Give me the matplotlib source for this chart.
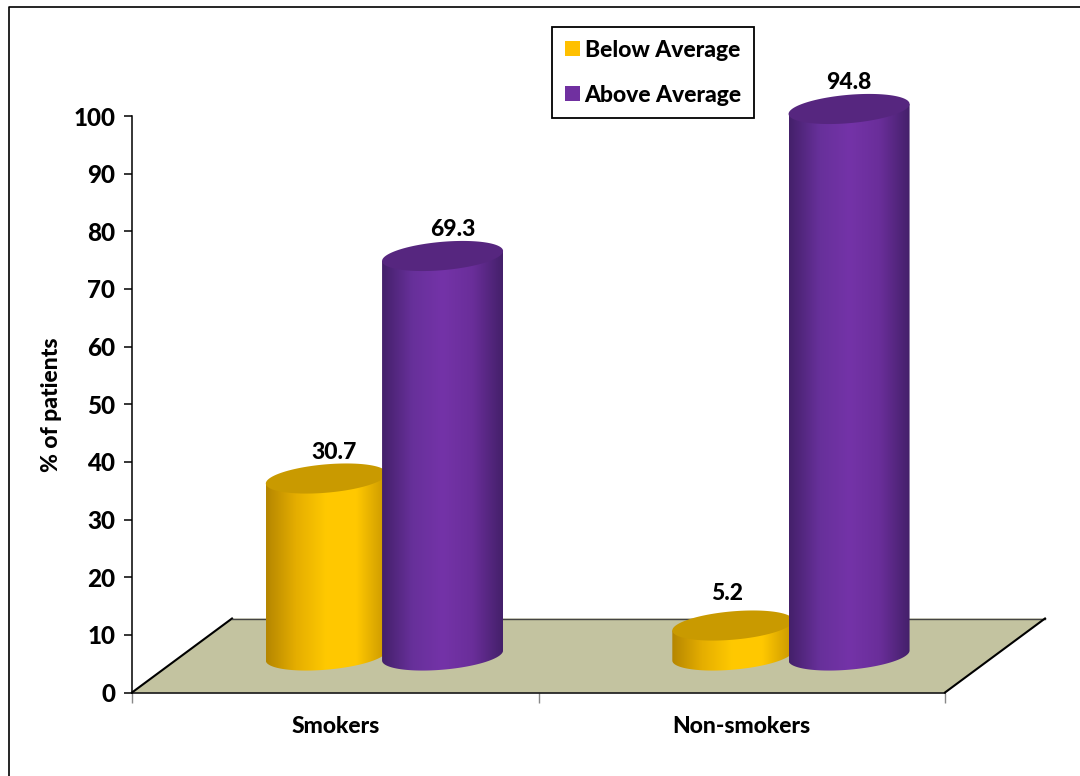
import numpy as np
import matplotlib
matplotlib.use('Agg')
from matplotlib import pyplot as plt
from matplotlib.colors import LinearSegmentedColormap
from matplotlib.lines import Line2D
from matplotlib.patches import Patch, PathPatch, Polygon
from matplotlib.path import Path

plt.rcParams['font.family'] = ['Lato', 'DejaVu Sans']
plt.rcParams['font.weight'] = 'black'

groups = ['Smokers', 'Non-smokers']
below_avg = [30.7, 5.2]
above_avg = [69.3, 94.8]
yticks = [0, 10, 20, 30, 40, 50, 60, 70, 80, 90, 100]

W, H = 1080, 776
fig = plt.figure(figsize=(W / 100, H / 100), dpi=100, facecolor='white')
ax = fig.add_axes([132 / W, 1 - 692.5 / H, (945 - 132) / W, (692.5 - 116) / H])
ax.set_xlim(0, 2)
ax.set_ylim(0, 100)
xpx = (945 - 132) / 2    # pixels per x unit
ypx = (692.5 - 116) / 100  # pixels per y unit

# floor of the 3d plot
floor = Polygon([(0, 0), (100 / xpx, 74 / ypx), (2 + 100 / xpx, 74 / ypx), (2, 0)], closed=True,
                facecolor='#C3C3A0', edgecolor='none', clip_on=False, zorder=1)
ax.add_patch(floor)
ax.plot([0, 100 / xpx], [0, 74 / ypx], color='black', lw=1.5, clip_on=False, zorder=2)
ax.plot([100 / xpx, 2 + 100 / xpx], [74 / ypx, 74 / ypx], color='#444444', lw=1, clip_on=False, zorder=2)
ax.plot([2, 2 + 100 / xpx], [0, 74 / ypx], color='black', lw=1.5, clip_on=False, zorder=2)

yellow_side = LinearSegmentedColormap.from_list('ys', ['#B58600', '#E5AE00', '#FFC900', '#FFC800', '#C99700'])
purple_side = LinearSegmentedColormap.from_list('ps', ['#44206A', '#67309A', '#7433A8', '#6A2E9A', '#44206A'])


def cylinder(cx, value, cmap, top_color, z):
    # tilted ellipse for the end caps, base sits above the axis by the floor depth
    r = 60.5 / xpx
    tilt = 5 / ypx
    h = 14.2 / ypx
    base = 37 / ypx
    top = base + value
    t = np.linspace(np.pi, 2 * np.pi, 80)
    low_x = cx + r * np.cos(t)
    low_y = base + tilt * np.cos(t) + h * np.sin(t)
    verts = list(zip(low_x, low_y))
    verts.append((cx + r, top + tilt))
    verts.append((cx - r, top - tilt))
    verts.append(verts[0])
    body = PathPatch(Path(verts), facecolor='none', edgecolor='none', transform=ax.transData)
    ax.add_patch(body)
    img = ax.imshow(np.linspace(0, 1, 256)[None, :], cmap=cmap, aspect='auto', interpolation='bilinear',
                    extent=[cx - r, cx + r, 0, top + tilt + 1], zorder=z)
    img.set_clip_box(fig.bbox)
    img.set_clip_path(body)
    t = np.linspace(0, 2 * np.pi, 160)
    ax.fill(cx + r * np.cos(t), top + tilt * np.cos(t) + h * np.sin(t), color=top_color, lw=0, zorder=z + 0.1,
            clip_on=False)


x_below = [0.478, 1.478]
x_above = [0.764, 1.764]
for i in range(2):
    cylinder(x_below[i], below_avg[i], yellow_side, '#C99A00', 3)
    cylinder(x_above[i], above_avg[i], purple_side, '#56267F', 4)

ax.set_xlim(0, 2)
ax.set_ylim(0, 100)

# value labels above the caps
below_nudge = [(8, 26), (-6, 32)]
above_nudge = [(10, 26), (0, 26)]
for i in range(2):
    ax.annotate(str(below_avg[i]), (x_below[i], below_avg[i] + 37 / ypx), xytext=below_nudge[i],
                textcoords='offset pixels', ha='center', va='center', fontsize=16.5, zorder=6,
                annotation_clip=False)
    ax.annotate(str(above_avg[i]), (x_above[i], above_avg[i] + 37 / ypx), xytext=above_nudge[i],
                textcoords='offset pixels', ha='center', va='center', fontsize=16.5, zorder=6,
                annotation_clip=False)

for s in ['top', 'right']:
    ax.spines[s].set_visible(False)
for s in ['left', 'bottom']:
    ax.spines[s].set_linewidth(1.1)
    ax.spines[s].set_zorder(2.5)
ax.patch.set_alpha(0)

ax.set_yticks(yticks)
ax.tick_params(axis='y', length=6, width=1.1, pad=6, labelsize=17.5)
ax.set_xticks([0, 1, 2])
ax.set_xticklabels([])
ax.tick_params(axis='x', which='major', length=7, width=1, color='#888888')
ax.set_xticks([0.5, 1.5], labels=groups, minor=True)
ax.tick_params(axis='x', which='minor', length=0, pad=17, labelsize=16.5)
ax.set_ylabel('% of patients', fontsize=16.5, labelpad=8, fontweight='black')

handles = [Patch(facecolor='#FFC000', edgecolor='none', label='Below Average'),
           Patch(facecolor='#7030A0', edgecolor='none', label='Above Average')]
leg = fig.legend(handles=handles, loc='upper left', bbox_to_anchor=(552 / W, 1 - 27 / H), fontsize=16.5,
                 frameon=True, fancybox=False, edgecolor='black', framealpha=1, handlelength=0.65,
                 handleheight=0.65, handletextpad=0.22, labelspacing=1.05, borderpad=0.55, borderaxespad=0)
leg.get_frame().set_linewidth(1.3)
leg.set_zorder(10)

# outer border of the figure
fig.add_artist(Line2D([8.5 / W, 8.5 / W, 1], [0, 1 - 7 / H, 1 - 7 / H], color='black', lw=1.2))

fig.savefig('out.png', dpi=100)
